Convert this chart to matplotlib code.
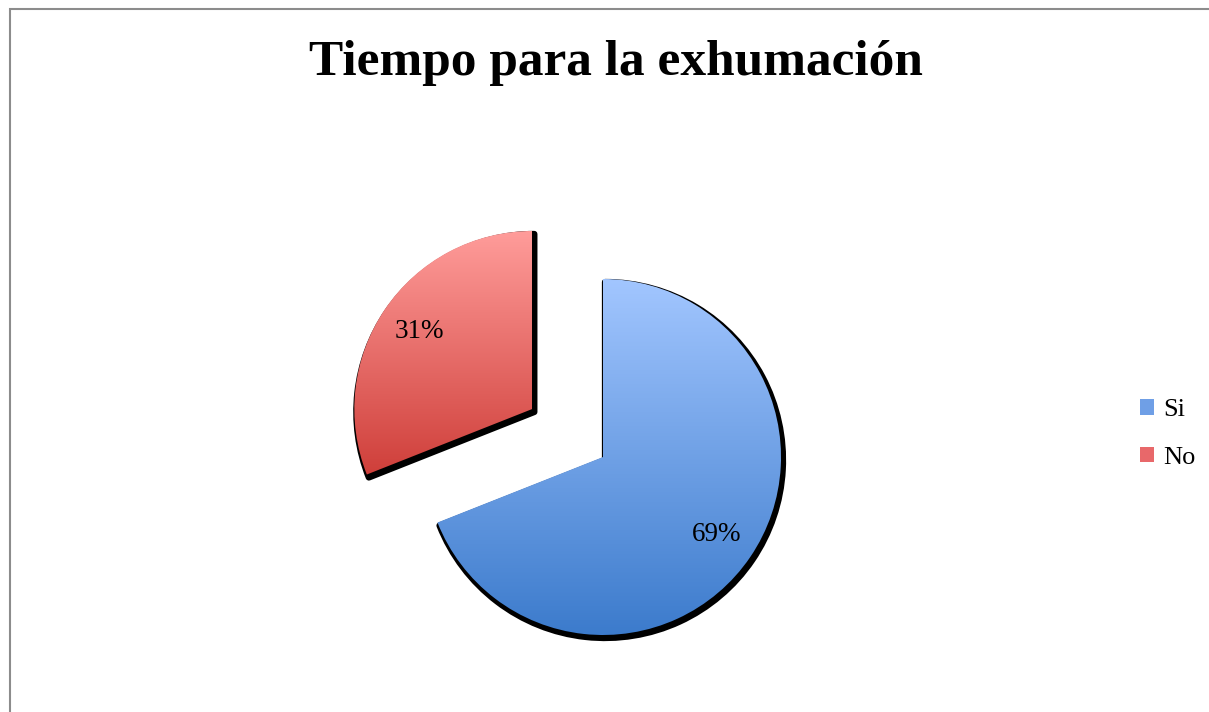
import numpy as np
import matplotlib
matplotlib.use("Agg")
import matplotlib.pyplot as plt
from matplotlib.patches import Wedge, Rectangle, Patch
from matplotlib.colors import LinearSegmentedColormap

labels = ["Si", "No"]
shares = [69, 31]
explode = [0, 0.48]

# top and bottom colour of each slice gradient
grad_top = ["#a2c6ff", "#ff9c9a"]
grad_bottom = ["#3c7bcc", "#cf3f3a"]
legend_colors = ["#6f9fe6", "#e8686a"]

W, H = 1209, 712
R_PX = 178.0
CX, CY = 603.0, 457.0

fig = plt.figure(figsize=(W / 100, H / 100), dpi=100)
fig.patch.set_facecolor("white")
ax = fig.add_axes([0, 0, 1, 1])

wedges, texts, autotexts = ax.pie(
    shares, explode=explode, startangle=90, counterclock=False,
    autopct="%.0f%%", pctdistance=0.77, radius=1,
    wedgeprops=dict(linewidth=0),
    textprops=dict(fontsize=19.5, family="Liberation Serif", color="black"),
)
for t in texts:
    t.set_visible(False)

ax.axis("off")

# drop shadow + vertical gradient fill for each slice
for i, w in enumerate(wedges):
    cx, cy = w.center
    sh = Wedge((cx + 2 / R_PX, cy - 3 / R_PX), w.r, w.theta1, w.theta2,
               facecolor="black", edgecolor="black", linewidth=4.5,
               joinstyle="round", zorder=0.5)
    ax.add_patch(sh)
    w.set_facecolor("none")
    w.set_zorder(1)
    ext = w.get_path().get_extents()
    cmap = LinearSegmentedColormap.from_list("g%d" % i, [grad_bottom[i], grad_top[i]])
    grad = np.linspace(0, 1, 256).reshape(-1, 1)
    im = ax.imshow(grad, cmap=cmap, origin="lower", aspect="auto",
                   extent=[ext.x0, ext.x1, ext.y0, ext.y1], zorder=1,
                   interpolation="bilinear")
    im.set_clip_path(w)
for t in autotexts:
    t.set_zorder(3)

ax.set_xlim(-CX / R_PX, (W - CX) / R_PX)
ax.set_ylim(-(H - CY) / R_PX, CY / R_PX)

fig.text(616 / W, 1 - 63 / H, "Tiempo para la exhumación", ha="center", va="center",
         fontsize=37, fontweight="bold", family="Liberation Serif")

handles = [Patch(facecolor=c, edgecolor="none") for c in legend_colors]
fig.legend(handles, labels, loc="center left", bbox_to_anchor=(1116 / W, 1 - 434 / H),
           frameon=False, prop=dict(family="Liberation Serif", size=19),
           handlelength=0.55, handleheight=0.55, handletextpad=0.35, labelspacing=0.95)

# outer chart border
fig.add_artist(Rectangle((10 / W, -0.1), 2, 1.1 - 9 / H, transform=fig.transFigure,
                         facecolor="none", edgecolor="#8c8c8c", linewidth=1.5))

fig.savefig("out.png", dpi=100)
